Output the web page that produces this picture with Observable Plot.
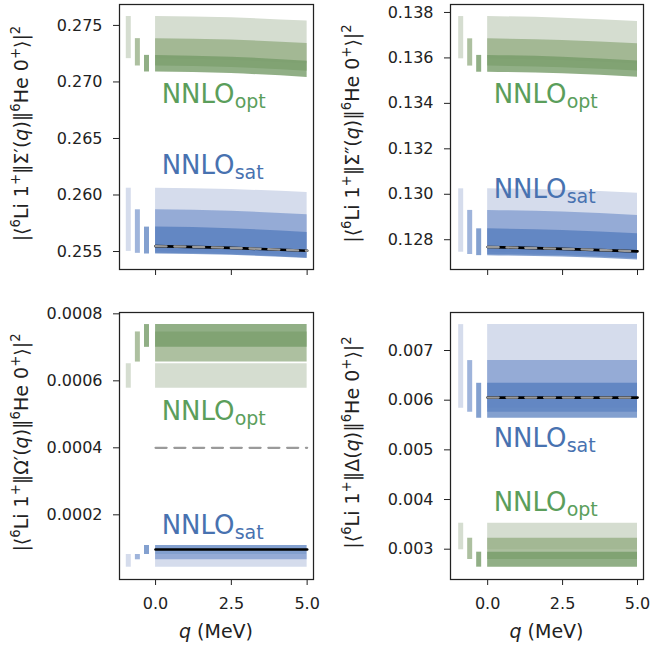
<!DOCTYPE html>
<html>
<head>
<meta charset="utf-8">
<script src="https://cdn.jsdelivr.net/npm/d3@7"></script>
<script src="https://cdn.jsdelivr.net/npm/@observablehq/plot@0.6"></script>
<style>
  body { margin: 0; background: #fff; }
  #chart { position: relative; width: 652px; height: 646px; background: #fff; }
  #chart svg { position: absolute; }
</style>
</head>
<body>
<div id="chart"></div>
<script>
// ---------- DATA (rows: [band level, q in MeV, lower, upper]) ----------
const qTicks = [0, 2.5, 5];

// |<6Li 1+||Sigma'(q)||6He 0+>|^2
const sigmaP_opt = [
  ["light", 0, 0.27206, 0.27579], ["light", 2.5, 0.27192, 0.27567], ["light", 5, 0.27160, 0.27538],
  ["medium", 0, 0.27141, 0.27383], ["medium", 2.5, 0.27127, 0.27370], ["medium", 5, 0.27095, 0.27339],
  ["dark", 0, 0.27088, 0.27235], ["dark", 2.5, 0.27074, 0.27219], ["dark", 5, 0.27040, 0.27183]
];
const sigmaP_sat = [
  ["light", 0, 0.25501, 0.26060], ["light", 2.5, 0.25489, 0.26048], ["light", 5, 0.25461, 0.26021],
  ["medium", 0, 0.25484, 0.25869], ["medium", 2.5, 0.25472, 0.25856], ["medium", 5, 0.25443, 0.25825],
  ["dark", 0, 0.25478, 0.25716], ["dark", 2.5, 0.25466, 0.25702], ["dark", 5, 0.25438, 0.25668]
];
const sigmaP_ref = [[0, 0.25548], [2.5, 0.25532], [5, 0.25507]];
const sigmaP_ticks = [0.255, 0.260, 0.265, 0.270, 0.275];

// |<6Li 1+||Sigma''(q)||6He 0+>|^2
const sigmaPP_opt = [
  ["light", 0, 0.13596, 0.13782], ["light", 2.5, 0.13589, 0.13775], ["light", 5, 0.13574, 0.13760],
  ["medium", 0, 0.13564, 0.13684], ["medium", 2.5, 0.13557, 0.13677], ["medium", 5, 0.13542, 0.13662],
  ["dark", 0, 0.13537, 0.13611], ["dark", 2.5, 0.13530, 0.13603], ["dark", 5, 0.13515, 0.13586]
];
const sigmaPP_sat = [
  ["light", 0, 0.12745, 0.13024], ["light", 2.5, 0.12739, 0.13018], ["light", 5, 0.12725, 0.13005],
  ["medium", 0, 0.12735, 0.12929], ["medium", 2.5, 0.12729, 0.12922], ["medium", 5, 0.12716, 0.12907],
  ["dark", 0, 0.12730, 0.12848], ["dark", 2.5, 0.12724, 0.12841], ["dark", 5, 0.12711, 0.12826]
];
const sigmaPP_ref = [[0, 0.12768], [2.5, 0.12760], [5, 0.12749]];
const sigmaPP_ticks = [0.128, 0.130, 0.132, 0.134, 0.136, 0.138];

// |<6Li 1+||Omega'(q)||6He 0+>|^2
const omegaP_opt = [
  ["light", 0, 0.000578, 0.000651], ["light", 5, 0.000578, 0.000651],
  ["medium", 0, 0.000656, 0.000746], ["medium", 5, 0.000656, 0.000746],
  ["dark", 0, 0.000700, 0.000768], ["dark", 5, 0.000700, 0.000768]
];
const omegaP_sat = [
  ["light", 0, 0.0000436, 0.0000815], ["light", 5, 0.0000436, 0.0000815],
  ["medium", 0, 0.0000657, 0.0000815], ["medium", 5, 0.0000657, 0.0000815],
  ["dark", 0, 0.0000815, 0.0001084], ["dark", 5, 0.0000815, 0.0001084]
];
const omegaP_black = [[0, 0.0000964], [5, 0.0000964]];
const omegaP_grey = [[0, 0.0004], [5, 0.0004]];
const omegaP_ticks = [0.0002, 0.0004, 0.0006, 0.0008];

// |<6Li 1+||Delta(q)||6He 0+>|^2
const delta_opt = [
  ["light", 0, 0.002988, 0.003523], ["light", 5, 0.002988, 0.003523],
  ["medium", 0, 0.002793, 0.003221], ["medium", 5, 0.002793, 0.003221],
  ["dark", 0, 0.002638, 0.002940], ["dark", 5, 0.002638, 0.002940]
];
const delta_sat = [
  ["light", 0, 0.005837, 0.007521], ["light", 5, 0.005837, 0.007521],
  ["medium", 0, 0.005757, 0.006797], ["medium", 5, 0.005757, 0.006797],
  ["dark", 0, 0.005636, 0.006340], ["dark", 5, 0.005636, 0.006340]
];
const delta_ref = [[0, 0.006052], [5, 0.006052]];
const delta_ticks = [0.003, 0.004, 0.005, 0.006, 0.007];

// ---------- STYLE ----------
const levels = ["light", "medium", "dark"];
const barX = {light: -0.9, medium: -0.6, dark: -0.3};
const palette = {
  opt: {light: ["#d5ddd0", 1], medium: ["#92ab80", 0.75], dark: ["#759b68", 0.8], text: "#5b9e5b"},
  sat: {light: ["#d5dcec", 1], medium: ["#7f9bcf", 0.75], dark: ["#4f78bb", 0.7], text: "#4872b0"}
};
const FONT = "DejaVu Sans";

const cols = {
  left: {x0: 0, width: 326, marginLeft: 119, marginRight: 13, xDomain: [-1.19, 5.21]},
  right: {x0: 326, width: 326, marginLeft: 124, marginRight: 9, xDomain: [-1.24, 5.2]}
};
const rows = {
  top: {y0: 0, height: 300, marginTop: 4, marginBottom: 31, showX: false},
  bottom: {y0: 300, height: 346, marginTop: 12, marginBottom: 67, showX: true}
};

const panels = [
  {col: "left", row: "top", opt: sigmaP_opt, sat: sigmaP_sat, black: sigmaP_ref, grey: sigmaP_ref,
   ticks: sigmaP_ticks, fmt: ".3f", yDomain: [0.25341, 0.27685], op: "Σ′", optY: 0.26817, satY: 0.26186},
  {col: "right", row: "top", opt: sigmaPP_opt, sat: sigmaPP_sat, black: sigmaPP_ref, grey: sigmaPP_ref,
   ticks: sigmaPP_ticks, fmt: ".3f", yDomain: [0.12669, 0.13835], op: "Σ″", optY: 0.13403, satY: 0.12983},
  {col: "left", row: "bottom", opt: omegaP_opt, sat: omegaP_sat, black: omegaP_black, grey: omegaP_grey,
   ticks: omegaP_ticks, fmt: ".4f", yDomain: [0.0000069, 0.000804], op: "Ω′", optY: 0.000484, satY: 0.0001433},
  {col: "right", row: "bottom", opt: delta_opt, sat: delta_sat, black: delta_ref, grey: delta_ref,
   ticks: delta_ticks, fmt: ".3f", yDomain: [0.00239, 0.007765], op: "Δ", optY: 0.003765, satY: 0.005052}
];

function bandMarks(data, model) {
  const out = [];
  for (const lev of levels) {
    const [c, a] = palette[model][lev];
    const r = data.filter(d => d[0] === lev);
    out.push(Plot.areaY(r, {x: d => d[1], y1: d => d[2], y2: d => d[3], fill: c, fillOpacity: a, curve: "natural"}));
    out.push(Plot.ruleX(r.filter(d => d[1] === 0), {x: () => barX[lev], y1: d => d[2], y2: d => d[3],
      stroke: c, strokeOpacity: a, strokeWidth: 5}));
  }
  return out;
}

function modelLabel(y, main, sub, color) {
  const pos = [{x: 0.2, y}];
  return [
    Plot.text(pos, {x: "x", y: "y", text: () => main, fill: color, fontSize: 26, fontFamily: FONT,
      textAnchor: "start", lineAnchor: "bottom"}),
    Plot.text(pos, {x: "x", y: "y", text: () => sub, fill: color, fontSize: 19, fontFamily: FONT,
      textAnchor: "start", lineAnchor: "bottom", dx: 73, dy: 5})
  ];
}

function addRichText(svg, x, y, rotate, parts, size) {
  const t = d3.select(svg).append("text")
    .attr("transform", `translate(${x},${y})` + (rotate ? " rotate(-90)" : ""))
    .attr("text-anchor", "middle")
    .attr("font-family", FONT)
    .attr("font-size", size)
    .attr("fill", "#222");
  let shift = 0;
  for (const [s, kind] of parts) {
    const ts = t.append("tspan").text(s);
    const target = kind === "sup" ? -0.42 * size : 0;
    ts.attr("dy", target - shift);
    shift = target;
    if (kind === "sup") ts.attr("font-size", size * 0.7);
    if (kind === "it") ts.attr("font-style", "italic");
  }
}

const chart = document.getElementById("chart");

for (const p of panels) {
  const c = cols[p.col], r = rows[p.row];
  const svg = Plot.plot({
    width: c.width,
    height: r.height,
    marginLeft: c.marginLeft,
    marginRight: c.marginRight,
    marginTop: r.marginTop,
    marginBottom: r.marginBottom,
    style: {fontFamily: FONT, fontSize: "16px", color: "#222", background: "transparent", overflow: "visible"},
    x: {domain: c.xDomain, ticks: qTicks, tickFormat: r.showX ? d3.format(".1f") : () => "",
        tickSize: 6, tickPadding: 12, label: null},
    y: {domain: p.yDomain, ticks: p.ticks, tickFormat: d3.format(p.fmt), tickSize: 6, tickPadding: 11, label: null},
    marks: [
      ...bandMarks(p.opt, "opt"),
      ...bandMarks(p.sat, "sat"),
      Plot.line(p.black, {x: d => d[0], y: d => d[1], stroke: "#000", strokeWidth: 2.7, curve: "natural"}),
      Plot.line(p.grey, {x: d => d[0], y: d => d[1], stroke: "#9a9a9a", strokeWidth: 2.3,
        strokeDasharray: "11,7.8", curve: "natural"}),
      ...modelLabel(p.optY, "NNLO", "opt", palette.opt.text),
      ...modelLabel(p.satY, "NNLO", "sat", palette.sat.text),
      Plot.frame({stroke: "#222", strokeWidth: 1.25})
    ]
  });
  svg.style.left = c.x0 + "px";
  svg.style.top = r.y0 + "px";

  const plotH = r.height - r.marginTop - r.marginBottom;
  const plotW = c.width - c.marginLeft - c.marginRight;
  addRichText(svg, c.marginLeft - 91, r.marginTop + plotH / 2 - 3, true, [
    ["|⟨", "n"], ["6", "sup"], ["Li 1", "n"], ["+", "sup"], ["‖" + p.op + "(", "n"], ["q", "it"],
    [")‖", "n"], ["6", "sup"], ["He 0", "n"], ["+", "sup"], ["⟩|", "n"], ["2", "sup"]
  ], 19);
  if (r.showX) {
    addRichText(svg, c.marginLeft + plotW / 2, 338, false, [["q", "it"], [" (MeV)", "n"]], 19);
  }
  chart.appendChild(svg);
}
</script>
</body>
</html>
